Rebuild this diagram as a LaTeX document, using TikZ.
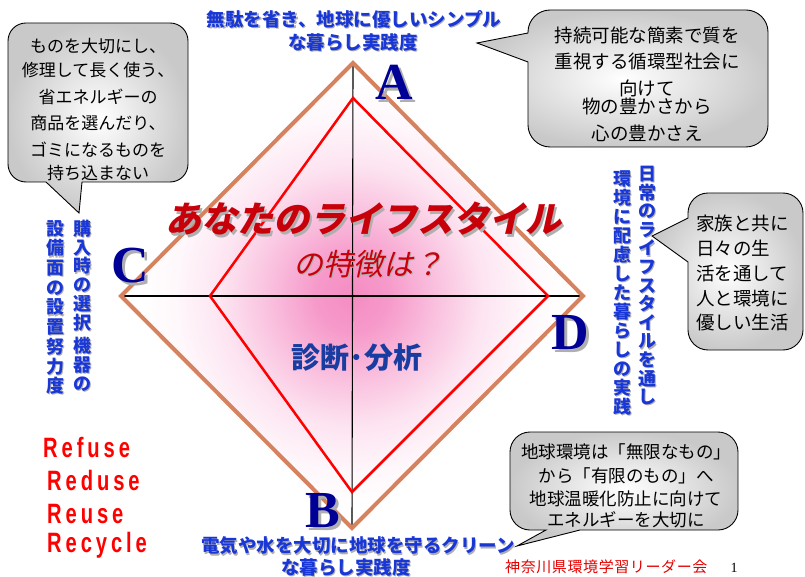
\documentclass[tikz,border=0pt]{standalone}
\usepackage{fontspec}
\setmainfont{Liberation Serif}
\newfontfamily\jp{Noto Sans CJK JP}
\newfontfamily\jpit[FakeSlant=0.22]{Noto Sans CJK JP}
\newfontfamily\ftjp[LetterSpace=4]{Noto Sans CJK JP}
\newfontfamily\rfont[LetterSpace=14,FakeStretch=0.72]{Liberation Sans}
\definecolor{hblue}{RGB}{25,55,215}
\definecolor{lblue}{RGB}{0,0,150}
\definecolor{dred}{RGB}{200,0,10}
\definecolor{pinkc}{RGB}{245,140,195}
\definecolor{diamc}{RGB}{215,130,95}
\definecolor{cblue}{RGB}{25,60,160}
\definecolor{shadowc}{RGB}{175,175,175}
\pgfdeclareradialshading{pinkglow}{\pgfpoint{0bp}{0bp}}{color(0bp)=(pinkc); color(4bp)=(pinkc!88!white); color(9bp)=(pinkc!55!white); color(14bp)=(pinkc!24!white); color(19bp)=(pinkc!7!white); color(23bp)=(white); color(50bp)=(white)}
\newcommand{\shtext}[5]{%
  \node[#3,text=shadowc,xshift=#4pt,yshift=-#4pt] (#1s) at (#2) {#5};
  \node[#3] (#1) at (#2) {#5};}
\begin{document}
\begin{tikzpicture}[x=1pt,y=-1pt,
  hdr/.style={font=\jp\bfseries\fontsize{18.5}{20}\selectfont, text=hblue, inner sep=0},
  vcol/.style={font=\jp\bfseries\fontsize{18}{#1}\selectfont, text=hblue, inner sep=0, align=center, anchor=north},
  letter/.style={font=\fontsize{52}{52}\selectfont\bfseries, text=lblue, inner sep=0},
  ttl/.style={font=\jpit\bfseries\fontsize{36}{40}\selectfont, text=dred, inner sep=0},
  ttlb/.style={font=\jpit\fontsize{30}{32}\selectfont, text=dred, inner sep=0},
  bubble/.style={draw=black, line width=0.9pt, inner color=white, outer color=gray!42},
  ct/.style={font=\jp\fontsize{#1}{#1}\selectfont, inner sep=0},
  rr/.style={font=\rfont\bfseries\fontsize{28}{28}\selectfont, text=red, inner sep=0, anchor=base west}]
\useasboundingbox (0,0) rectangle (805,577);
% diamond coordinates
\coordinate (oT) at (353,63);
\coordinate (oR) at (583,296);
\coordinate (oB) at (352,528);
\coordinate (oL) at (121,296);
\coordinate (iT) at (353,98);
\coordinate (iR) at (548,296);
\coordinate (iB) at (352,492);
\coordinate (iL) at (210,296);
\shade[shading=pinkglow] (oT) -- (oR) -- (oB) -- (oL) -- cycle;
\draw[line width=1.1pt] (oT) -- (oB);
\draw[line width=1.1pt] (oL) -- (oR);
\draw[red, line width=2.5pt, line join=miter] (iT) -- (iR) -- (iB) -- (iL) -- cycle;
\draw[diamc, line width=4pt, line join=miter] (oT) -- (oR) -- (oB) -- (oL) -- cycle;
% axis letters
\shtext{A}{394,82}{letter}{3}{A}
\shtext{C}{130,266}{letter}{3}{C}
\shtext{D}{570,333}{letter}{3}{D}
\shtext{B}{323,511}{letter}{3}{B}
% headers
\shtext{h1}{354,19}{hdr}{1.2}{無駄を省き、地球に優しいシンプル}
\shtext{h2}{353,42}{hdr}{1.2}{な暮らし実践度}
\shtext{b1}{358,546}{hdr}{1.2}{電気や水を大切に地球を守るクリーン}
\shtext{b2}{346,567}{hdr}{1.2}{な暮らし実践度}
% vertical columns
\shtext{r1}{647,166}{vcol=18.6}{1.2}{日\\常\\の\\ラ\\イ\\フ\\ス\\タ\\イ\\ル\\を\\通\\し}
\shtext{r2}{622,170}{vcol=19}{1.2}{環\\境\\に\\配\\慮\\し\\た\\暮\\ら\\し\\の\\実\\践}
\shtext{l1}{82,220}{vcol=18.7}{1.2}{購\\入\\時\\の\\選\\択\\[5pt]機\\器\\の}
\shtext{l2}{55,220}{vcol=19.7}{1.2}{設\\備\\面\\の\\設\\置\\努\\力\\度}
% title
\shtext{t1}{363,219}{ttl}{2.5}{あなたのライフスタイル}
\shtext{t2}{368,264}{ttlb}{1.5}{の特徴は？}
\node[font=\jp\bfseries\fontsize{29}{30}\selectfont, text=cblue, inner sep=0] (diag) at (357,358) {診断･分析};
% callout 1 (top left)
\shadedraw[bubble] (26,23) -- (170,23) .. controls (180,23) and (188,31) .. (188,41)
  -- (188,164) .. controls (188,174) and (180,182) .. (170,182)
  -- (82,182) -- (79,213) -- (46,182) -- (26,182) .. controls (16,182) and (8,174) .. (8,164)
  -- (8,41) .. controls (8,31) and (16,23) .. (26,23) -- cycle;
\foreach \t/\y [count=\i] in {ものを大切にし、/46, 修理して長く使う、/70.5, 省エネルギーの/97, 商品を選んだり、/123.5, ゴミになるものを/149.5, 持ち込まない/173.5}
  \node[ct=17] (ca\i) at (98,\y) {\t};
% callout 2 (top right)
\shadedraw[bubble] (550,10) -- (746,10) .. controls (758,10) and (768,20) .. (768,32)
  -- (768,125) .. controls (768,137) and (758,147) .. (746,147)
  -- (550,147) .. controls (538,147) and (528,137) .. (528,125)
  -- (528,62) -- (477,43) -- (528,33) -- (528,32) .. controls (528,20) and (538,10) .. (550,10) -- cycle;
\foreach \t/\y [count=\i] in {持続可能な簡素で質を/35, 重視する循環型社会に/62, 向けて/88.5, 物の豊かさから/106, 心の豊かさえ/133}
  \node[ct=18.5] (cb\i) at (647,\y) {\t};
% callout 3 (right)
\shadedraw[bubble] (708,193) -- (783,193) .. controls (794,193) and (803,202) .. (803,213)
  -- (803,330) .. controls (803,341) and (794,350) .. (783,350)
  -- (708,350) .. controls (697,350) and (688,341) .. (688,330)
  -- (688,262) -- (652,236) -- (688,218) -- (688,213) .. controls (688,202) and (697,193) .. (708,193) -- cycle;
\foreach \t/\y [count=\i] in {家族と共に/223, 日々の生/248, 活を通して/273, 人と環境に/298, 優しい生活/323}
  \node[ct=18.5, anchor=west] (cc\i) at (696,\y) {\t};
% callout 4 (bottom right)
\shadedraw[bubble] (530,432) -- (718,432) .. controls (729,432) and (738,441) .. (738,452)
  -- (738,510) .. controls (738,521) and (729,530) .. (718,530)
  -- (580,530) -- (517,546) -- (546,530) -- (530,530) .. controls (519,530) and (510,521) .. (510,510)
  -- (510,452) .. controls (510,441) and (519,432) .. (530,432) -- cycle;
\foreach \t/\y [count=\i] in {地球環境は「無限なもの」/452, から「有限のもの」へ/475.5, 地球温暖化防止に向けて/498.5, エネルギーを大切に/520}
  \node[ct=17.5] (cd\i) at (626,\y) {\t};
% 4R list
\node[rr] (rf1) at (43,457) {Refuse};
\node[rr] (rf2) at (47,490) {Reduse};
\node[rr] (rf3) at (47,523) {Reuse};
\node[rr] (rf4) at (47,552) {Recycle};
% footer
\node[font=\ftjp\fontsize{15}{15}\selectfont, text=red!90!black, anchor=base west, inner sep=0] (foot) at (505,572) {神奈川県環境学習リーダー会};
\node[font=\fontsize{14}{14}\selectfont, anchor=base, inner sep=0] (pg) at (734,572) {1};
\end{tikzpicture}
\end{document}
